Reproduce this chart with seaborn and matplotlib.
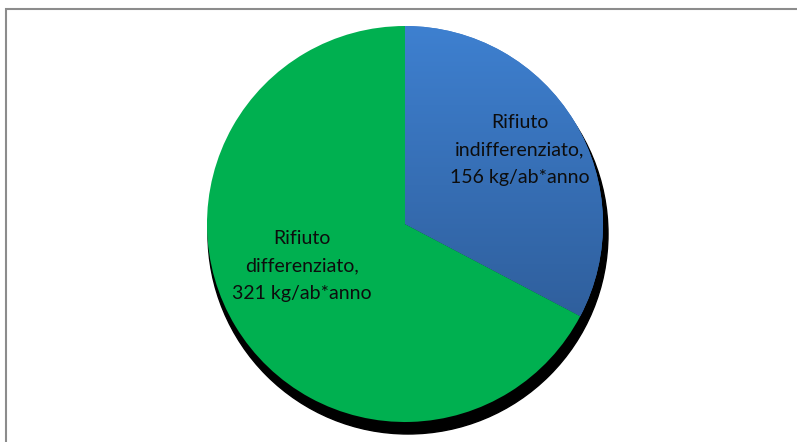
import numpy as np
import matplotlib
matplotlib.use('Agg')
import matplotlib.pyplot as plt
import seaborn as sns
from matplotlib.patches import Circle, Rectangle

sns.set_style('white')
plt.rcParams['font.family'] = ['Lato', 'DejaVu Sans']

# dati
categorie = ['Rifiuto indifferenziato', 'Rifiuto differenziato']
valori = [156, 321]
etichette = ['Rifiuto\nindifferenziato,\n156 kg/ab*anno',
             'Rifiuto\ndifferenziato,\n321 kg/ab*anno']

W, H = 797, 442
fig = plt.figure(figsize=(W / 100, H / 100), dpi=100)
ax = fig.add_axes([0, 0, 1, 1])

cx, cy, R = 405, H - 224, 198

# ombra
ax.add_patch(Circle((cx + 3, cy - 10), R + 2, color='black', zorder=0))

wedges, _ = ax.pie(valori, colors=['#3A76C2', '#00B050'], startangle=90,
                   counterclock=False, radius=R, center=(cx, cy),
                   wedgeprops=dict(linewidth=0), frame=True)
for w in wedges:
    w.set_zorder(1)

# gradiente sulla fetta blu
grad = np.linspace(0, 1, 256).reshape(-1, 1)
cmap = matplotlib.colors.LinearSegmentedColormap.from_list('g', ['#2E5C98', '#3E80D0'])
img = ax.imshow(grad, cmap=cmap, origin='lower', aspect='auto',
                extent=(cx, cx + R, cy - R * 0.6, cy + R), zorder=2)
img.set_clip_path(wedges[0])

# etichette
pos = [(0.69, 33), (0.56, 202)]
for (rr, ang), lab in zip(pos, etichette):
    a = np.deg2rad(ang)
    ax.text(cx + rr * R * np.cos(a), cy + rr * R * np.sin(a), lab,
            ha='center', va='center', fontsize=14, color='#0d0d0d',
            linespacing=1.75, zorder=3)

# cornice
ax.add_patch(Rectangle((6.5, -20), 820, H - 8.5 + 20, fill=False,
                       edgecolor='#8c8c8c', linewidth=1.5, zorder=4))

ax.set_xlim(0, W)
ax.set_ylim(0, H)
ax.set_aspect('auto')
ax.axis('off')

fig.savefig('out.png', dpi=100, facecolor='white')
